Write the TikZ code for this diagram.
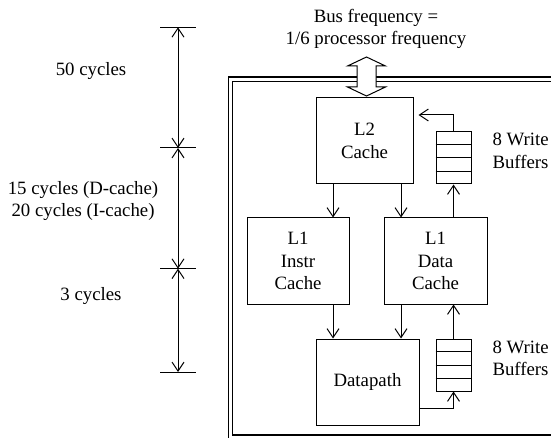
\documentclass[tikz,border=0pt]{standalone}
\usepackage{fontspec}
\setmainfont{Liberation Serif}
\usetikzlibrary{arrows.meta,calc}
\begin{document}
\begin{tikzpicture}[x=1pt,y=-1pt,
  line width=1pt,
  every node/.style={font=\fontsize{18.8}{22.5}\selectfont},
  box/.style={draw,rectangle,inner sep=0pt,align=center},
  buf/.style={draw,rectangle,inner sep=0pt,minimum width=35pt,minimum height=52pt},
  lbl/.style={inner sep=0pt,align=center},
  arr/.style={-{Straight Barb[length=9pt,width=12pt]}},
  dimarr/.style={{Straight Barb[length=9pt,width=12pt]}-{Straight Barb[length=9pt,width=12pt]}},
  frameline/.style={line width=1.1pt}
]
\useasboundingbox (0,0) rectangle (551,438);
\clip (0,0) rectangle (551,438);
% frame
\draw[frameline] (228.5,77) rectangle (620,439.5);
\draw[frameline] (232.8,81.3) rectangle (616,435);
% bus arrow
\draw[fill=white,line join=miter] (366.5,57) -- (385.5,66) -- (376,66) -- (376,87) -- (385.5,87) -- (366.5,96)
  -- (347.5,87) -- (357,87) -- (357,66) -- (347.5,66) -- cycle;
% texts
\node[lbl] (bus) at (376,29) {Bus frequency =\\1/6 processor frequency};
\node[lbl] (c50) at (91,71) {50 cycles};
\node[lbl] (c15) at (83,201) {15 cycles (D-cache)\\20 cycles (I-cache)};
\node[lbl] (c3) at (91,296) {3 cycles};
% dimension line
\coordinate (t1) at (178,27.3);
\coordinate (t2) at (178,148);
\coordinate (t3) at (178,268.7);
\coordinate (t4) at (178,372);
\foreach \t in {t1,t2,t3,t4} \draw ([xshift=-18pt]\t) -- ([xshift=17.5pt]\t);
\draw[dimarr] (t1) -- (t2);
\draw[dimarr] (t2) -- (t3);
\draw[dimarr] (t3) -- (t4);
% boxes
\node[box,minimum width=97pt,minimum height=86pt] (L2) at (364.5,141) {L2\\Cache};
\node[box,minimum width=102pt,minimum height=86pt] (L1I) at (298,261) {L1\\Instr\\Cache};
\node[box,minimum width=103pt,minimum height=86pt] (L1D) at (435.5,261) {L1\\Data\\Cache};
\node[box,minimum width=103pt,minimum height=86pt] (DP) at (367.5,382) {Datapath};
\node[buf] (B1) at (453.5,158) {};
\node[buf] (B2) at (453.5,365) {};
\foreach \b in {B1,B2} {
  \foreach \f in {0.25,0.5,0.75}
    \draw ($(\b.north west)!\f!(\b.south west)$) -- ($(\b.north east)!\f!(\b.south east)$);
}
\node[lbl,anchor=west,align=left] (W1) at (492,151) {8 Write\\Buffers};
\node[lbl,anchor=west,align=left] (W2) at (492,358.5) {8 Write\\Buffers};
% connectors
\draw[arr] (L2.south -| 333,0) -- (L1I.north -| 333,0);
\draw[arr] (L2.south -| 401,0) -- (L1D.north -| 401,0);
\draw[arr] (L1D.north -| B1.south) -- (B1.south);
\draw[arr,shorten >=5pt] (B1.north) |- (L2.east |- 0,115);
\draw[arr] (L1I.south -| 333,0) -- (DP.north -| 333,0);
\draw[arr] (L1D.south -| 401,0) -- (DP.north -| 401,0);
\draw[arr] (B2.north) -- (L1D.south -| B2.north);
\draw[arr] (DP.east |- 0,408) -| (B2.south);
\end{tikzpicture}
\end{document}
